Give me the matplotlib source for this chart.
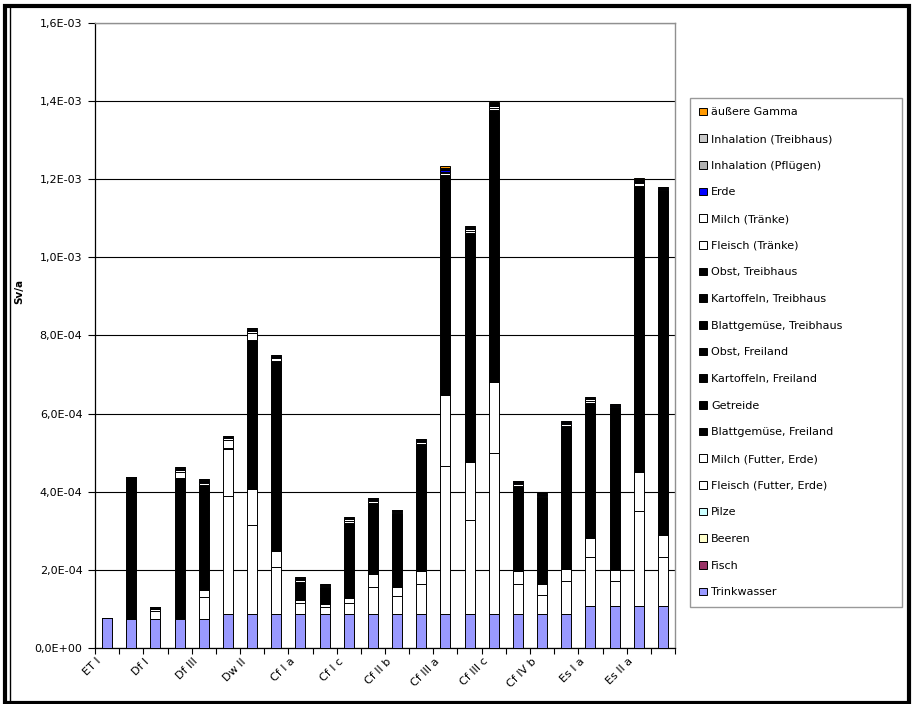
import matplotlib
matplotlib.use("Agg")
import matplotlib.pyplot as plt
import numpy as np
from matplotlib.patches import Rectangle, Patch
from matplotlib.lines import Line2D
from matplotlib.transforms import ScaledTranslation
from matplotlib.ticker import FuncFormatter, MultipleLocator

plt.rcParams['font.family'] = ['DejaVu Sans']

categories = ["ET I", "ET II", "Df I", "Df II", "Df III", "Dw I", "Dw II", "Dw III",
              "Cf I a", "Cf I b", "Cf I c", "Cf II a", "Cf II b", "Cf II c",
              "Cf III a", "Cf III b", "Cf III c", "Cf IV a", "Cf IV b", "Cf IV c",
              "Es I a", "Es I b", "Es II a", "Es II b"]
shown_labels = [c if i % 2 == 0 else "" for i, c in enumerate(categories)]

UNIT = 1e-5  # values below are in 1E-05 Sv/a

trinkwasser = [7.6, 7.4, 7.4, 7.4, 7.4, 8.7, 8.7, 8.7, 8.7, 8.7, 8.7, 8.7, 8.7, 8.7, 8.7, 8.7, 8.7, 8.7, 8.7, 8.7, 10.8, 10.8, 10.8, 10.8]
fisch = [0] * 24
beeren = [0] * 24
pilze = [0] * 24
fleisch_futter = [0, 0, 1.95, 0.1, 5.6, 30.2, 22.8, 11.9, 2.7, 1.86, 2.8, 7.0, 4.5, 7.7, 37.9, 24.1, 41.3, 7.6, 4.9, 8.5, 12.6, 6.4, 24.3, 12.4]
milch_futter = [0, 0, 0.6, 0.1, 1.9, 12.0, 9.1, 4.1, 0.8, 0.6, 1.3, 3.3, 2.4, 3.2, 18.1, 14.7, 18.1, 3.5, 2.7, 3.1, 4.7, 2.8, 10.0, 5.6]
blatt_frei = [0, 14.9, 0.08, 14.6, 11.0, 0.1, 15.6, 19.9, 1.8, 1.8, 7.8, 7.3, 7.7, 13.2, 23.0, 23.8, 28.2, 8.9, 9.1, 14.9, 13.9, 17.0, 29.8, 35.9]
getreide = [0, 9.1, 0.05, 9.0, 6.7, 0.1, 9.5, 12.2, 1.2, 1.1, 4.8, 4.5, 4.7, 8.1, 14.1, 14.7, 17.4, 5.4, 5.6, 9.1, 8.7, 10.4, 18.3, 22.1]
kart_frei = [0, 3.6, 0.02, 3.6, 2.7, 0.03, 3.8, 4.9, 0.5, 0.4, 1.9, 1.8, 1.9, 3.3, 5.6, 5.9, 7.0, 2.2, 2.2, 3.7, 3.5, 4.2, 7.3, 8.8]
obst_frei = [0, 3.0, 0.02, 3.0, 2.2, 0.02, 3.2, 4.0, 0.4, 0.4, 1.6, 1.5, 1.6, 2.7, 4.7, 4.9, 5.8, 1.8, 1.9, 3.0, 2.9, 3.5, 6.1, 7.4]
blatt_treib = [0, 2.9, 0.01, 2.9, 2.1, 0.02, 3.0, 3.9, 0.4, 0.3, 1.5, 1.4, 1.5, 2.6, 4.5, 4.7, 5.6, 1.7, 1.8, 2.9, 2.8, 3.3, 5.9, 7.1]
kart_treib = [0, 1.5, 0.01, 1.4, 1.1, 0.01, 1.5, 2.0, 0.2, 0.2, 0.8, 0.7, 0.8, 1.3, 2.3, 2.3, 2.8, 0.9, 0.9, 1.5, 1.4, 1.7, 2.9, 3.5]
obst_treib = [0, 1.4, 0.01, 1.5, 1.0, 0.02, 1.5, 1.9, 0.2, 0.2, 0.7, 0.8, 0.7, 1.3, 2.2, 2.4, 2.7, 0.8, 0.9, 1.4, 1.4, 1.6, 2.9, 3.6]
fleisch_traenke = [0, 0, 0.15, 1.5, 0.5, 2.0, 1.8, 0.6, 0.6, 0.3, 0.7, 0.6, 0.3, 0.5, 0.5, 0.5, 0.6, 0.5, 0.3, 0.5, 0.6, 0.2, 0.6, 0.1]
milch_traenke = [0, 0, 0.1, 0.5, 0.4, 0.5, 0.5, 0.3, 0.2, 0.14, 0.3, 0.3, 0.15, 0.3, 0.3, 0.4, 0.4, 0.3, 0.2, 0.3, 0.3, 0.15, 0.3, 0.1]
erde = [0, 0, 0, 0.2, 0.2, 0.2, 0.3, 0.2, 0.2, 0.1, 0.2, 0.2, 0.1, 0.2, 0.4, 0.3, 0.3, 0.2, 0.15, 0.2, 0.2, 0.1, 0.3, 0.3]
inh_pfluegen = [0, 0, 0, 0.2, 0.2, 0.2, 0.3, 0.2, 0.1, 0.1, 0.2, 0.2, 0.15, 0.2, 0.3, 0.3, 0.3, 0.15, 0.1, 0.15, 0.2, 0.1, 0.3, 0.1]
inh_treibhaus = [0, 0, 0, 0.2, 0.2, 0.1, 0.2, 0.2, 0.1, 0.1, 0.2, 0.2, 0.1, 0.2, 0.3, 0.2, 0.2, 0.15, 0.15, 0.15, 0.2, 0.15, 0.2, 0.1]
aeussere_gamma = [0, 0, 0, 0, 0, 0, 0, 0, 0, 0, 0, 0, 0, 0, 0.4, 0, 0.2, 0, 0, 0, 0.1, 0, 0.2, 0]

# bottom -> top stacking order
series = [
    ("Trinkwasser", trinkwasser, "#9999FF"),
    ("Fisch", fisch, "#993366"),
    ("Beeren", beeren, "#FFFFCC"),
    ("Pilze", pilze, "#CCFFFF"),
    ("Fleisch (Futter, Erde)", fleisch_futter, "#FFFFFF"),
    ("Milch (Futter, Erde)", milch_futter, "#FFFFFF"),
    ("Blattgemüse, Freiland", blatt_frei, "#000000"),
    ("Getreide", getreide, "#000000"),
    ("Kartoffeln, Freiland", kart_frei, "#000000"),
    ("Obst, Freiland", obst_frei, "#000000"),
    ("Blattgemüse, Treibhaus", blatt_treib, "#000000"),
    ("Kartoffeln, Treibhaus", kart_treib, "#000000"),
    ("Obst, Treibhaus", obst_treib, "#000000"),
    ("Fleisch (Tränke)", fleisch_traenke, "#FFFFFF"),
    ("Milch (Tränke)", milch_traenke, "#FFFFFF"),
    ("Erde", erde, "#0000FF"),
    ("Inhalation (Pflügen)", inh_pfluegen, "#B2B2B2"),
    ("Inhalation (Treibhaus)", inh_treibhaus, "#C8C8C8"),
    ("äußere Gamma", aeussere_gamma, "#FF9900"),
]

W, H = 914, 704
fig = plt.figure(figsize=(W / 100, H / 100), dpi=100)
ax = fig.add_axes([95 / W, 1 - 648 / H, 580 / W, (648 - 22.7) / H])

x = np.arange(len(categories))
bottom = np.zeros(len(categories))
handles = []
for name, vals, col in series:
    v = np.array(vals, dtype=float) * UNIT
    ax.bar(x, v, bottom=bottom, width=0.42, color=col, edgecolor="black",
           linewidth=0.7, zorder=3)
    bottom += v
    handles.append(Patch(facecolor=col, edgecolor="black", linewidth=0.7, label=name))

ax.set_xlim(-0.5, len(categories) - 0.5)
ax.set_ylim(0, 1.6e-3)
ax.yaxis.set_major_locator(MultipleLocator(2e-4))

def fmt(v, pos):
    if v == 0:
        return "0,0E+00"
    s = "%.1E" % v
    return s.replace(".", ",")
ax.yaxis.set_major_formatter(FuncFormatter(fmt))

ax.grid(axis="y", color="black", linewidth=0.8, zorder=0)
ax.set_axisbelow(True)
for sp in ("top", "right"):
    ax.spines[sp].set_color("#909090")
    ax.spines[sp].set_linewidth(1.0)
ax.spines["left"].set_linewidth(0.9)
ax.spines["bottom"].set_linewidth(0.9)

ax.tick_params(axis="y", direction="out", length=5, width=0.8, labelsize=8, pad=4)
ax.set_xticks(x)
ax.set_xticklabels(shown_labels, rotation=45, ha="right", rotation_mode="anchor", fontsize=8)
ax.tick_params(axis="x", which="major", length=0, pad=6)
ax.set_xticks(np.arange(-0.5, len(categories), 1.0), minor=True)
ax.tick_params(axis="x", which="minor", direction="out", length=4, width=0.8)
for lab in ax.get_xticklabels():
    lab.set_transform(lab.get_transform() + ScaledTranslation(-11 / 100, 0, fig.dpi_scale_trans))

ax.set_ylabel("Sv/a", fontsize=7.5, fontweight="bold")
ax.yaxis.set_label_coords(-0.122, 0.57)

leg = fig.legend(handles[::-1], [h.get_label() for h in handles[::-1]],
                 loc="upper left", bbox_to_anchor=(690 / W, 1 - 607 / H, 212 / W, 509 / H),
                 bbox_transform=fig.transFigure, mode="expand", fontsize=8, frameon=True,
                 fancybox=False, edgecolor="#808080", borderaxespad=0,
                 handlelength=0.7, handleheight=0.7, handletextpad=0.35,
                 labelspacing=1.5, borderpad=0.85)
leg.get_frame().set_linewidth(1.0)

# outer frame
fig.add_artist(Rectangle((4.5 / W, 1.5 / H), (909 - 4.5) / W, (698 - 1.5) / H,
                         transform=fig.transFigure, fill=False,
                         edgecolor="black", linewidth=3.0))
fig.add_artist(Line2D([9.5 / W, 9.5 / W], [3 / H, 1 - 6 / H], transform=fig.transFigure,
                      color="black", linewidth=1.0))

fig.savefig("out.png", dpi=100)
